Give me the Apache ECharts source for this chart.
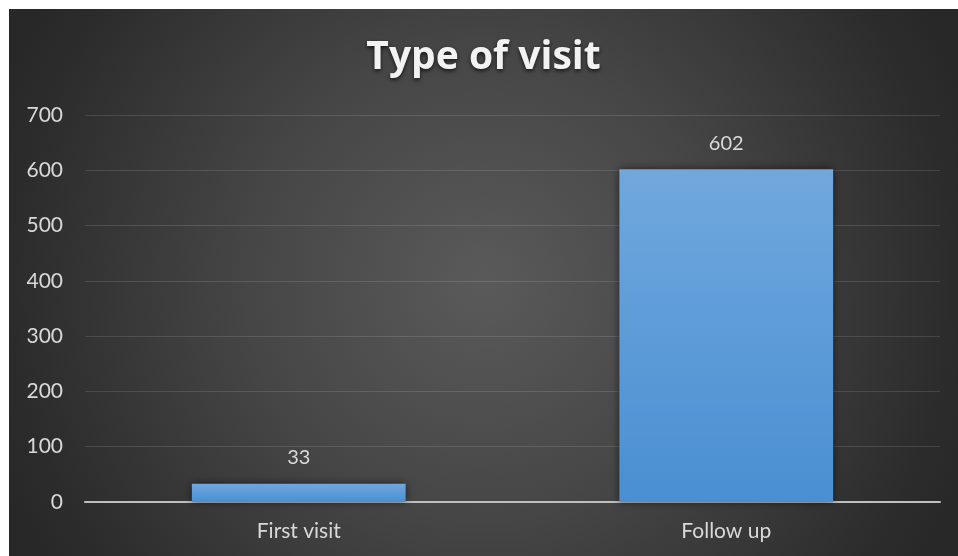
<!DOCTYPE html>
<html>
<head>
<meta charset="utf-8">
<script src="https://cdn.jsdelivr.net/npm/echarts@6/dist/echarts.min.js"></script>
<style>
  html, body { margin: 0; padding: 0; background: #ffffff; }
  #chart { position: absolute; left: 9px; top: 9px; width: 949px; height: 547px; }
</style>
</head>
<body>
<div id="chart"></div>
<script>
// Visit counts by type
const chartTitle = 'Type of visit';
const categories = ['First visit', 'Follow up'];
const visits = [33, 602];
const yTicks = { min: 0, max: 700, interval: 100 };

const chart = echarts.init(document.getElementById('chart'));

const fontFamily = 'Lato, "Open Sans", sans-serif';

chart.setOption({
  backgroundColor: {
    type: 'radial', x: 0.5, y: 0.5, r: 0.95,
    colorStops: [
      { offset: 0, color: '#5a5a5a' },
      { offset: 0.45, color: '#464646' },
      { offset: 0.9, color: '#2c2c2c' },
      { offset: 1, color: '#282828' }
    ]
  },
  animation: false,
  title: {
    text: chartTitle,
    left: 'center',
    top: 24,
    textStyle: {
      color: '#f2f2f2',
      fontFamily: '"Open Sans", Lato, sans-serif',
      fontWeight: 'bold',
      fontSize: 39,
      textShadowColor: 'rgba(0,0,0,0.7)',
      textShadowBlur: 4,
      textShadowOffsetY: 2
    }
  },
  grid: { left: 76, right: 18, top: 106, bottom: 54, containLabel: false },
  xAxis: {
    type: 'category',
    data: categories,
    axisLine: { lineStyle: { color: '#bfbfbf', width: 2 } },
    axisTick: { show: false },
    axisLabel: { color: '#d9d9d9', fontFamily: fontFamily, fontSize: 21, margin: 19 }
  },
  yAxis: {
    type: 'value',
    min: yTicks.min,
    max: yTicks.max,
    interval: yTicks.interval,
    axisLine: { show: false },
    axisTick: { show: false },
    axisLabel: { color: '#d9d9d9', fontFamily: fontFamily, fontSize: 21, margin: 22 },
    splitLine: { lineStyle: { color: 'rgba(255,255,255,0.12)', width: 1 } }
  },
  series: [{
    type: 'bar',
    data: visits,
    barWidth: '50%',
    itemStyle: {
      color: {
        type: 'linear', x: 0, y: 0, x2: 0, y2: 1,
        colorStops: [
          { offset: 0, color: '#70a8dd' },
          { offset: 1, color: '#4a8fd2' }
        ]
      },
      shadowColor: 'rgba(0,0,0,0.55)',
      shadowBlur: 8
    },
    label: {
      show: true,
      position: 'top',
      distance: 16,
      color: '#d9d9d9',
      fontFamily: fontFamily,
      fontSize: 20
    }
  }]
});
</script>
</body>
</html>
